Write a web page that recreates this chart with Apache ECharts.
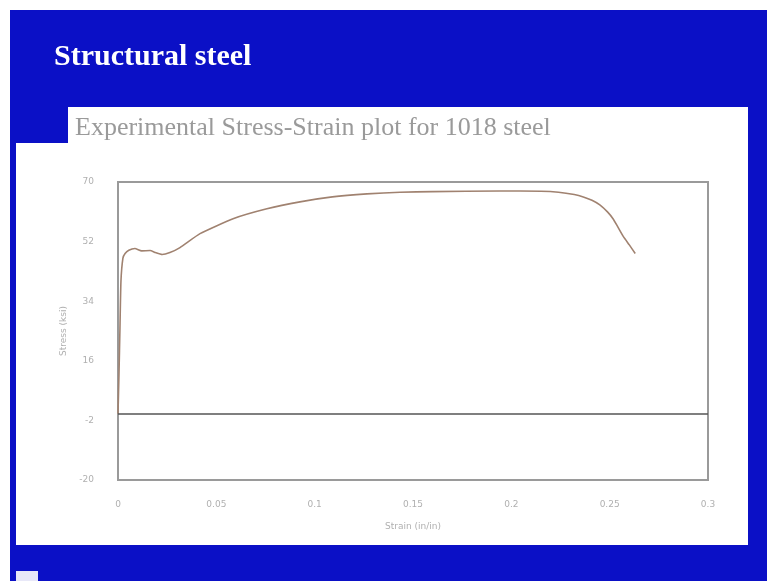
<!DOCTYPE html>
<html>
<head>
<meta charset="utf-8">
<script src="https://cdn.jsdelivr.net/npm/echarts@6/dist/echarts.min.js"></script>
<style>
html,body{margin:0;padding:0;background:#ffffff;}
#chart{width:767px;height:581px;}
</style>
</head>
<body>
<div id="chart"></div>
<script>
// Data
const strain = [0, 0.0005, 0.001, 0.0015, 0.0025, 0.0036, 0.0055, 0.0086, 0.012, 0.0163, 0.019, 0.0224, 0.0264, 0.0315, 0.0417, 0.0585, 0.0757, 0.0925, 0.109, 0.1266, 0.1434, 0.160, 0.194, 0.215, 0.224, 0.232, 0.2366, 0.241, 0.245, 0.249, 0.2517, 0.254, 0.257, 0.260, 0.263];
const stress = [0, 12, 26, 40, 47, 48.4, 49.4, 49.9, 49.2, 49.3, 48.7, 48.1, 48.7, 50.2, 54.4, 58.9, 61.9, 64.0, 65.5, 66.4, 66.9, 67.1, 67.3, 67.2, 66.9, 66.2, 65.5, 64.5, 63.1, 60.9, 58.9, 56.6, 53.5, 51.0, 48.4];
const yTicks = [-20, -2, 16, 34, 52, 70];
const xTicks = [0, 0.05, 0.1, 0.15, 0.2, 0.25, 0.3];
const slideTitle = "Structural steel";
const chartTitle = "Experimental Stress-Strain plot for 1018 steel";
const xName = "Strain (in/in)";
const yName = "Stress (ksi)";

const chart = echarts.init(document.getElementById('chart'), null, {renderer: 'canvas'});
const pts = strain.map((s, i) => [s, stress[i]]);

chart.setOption({
  animation: false,
  backgroundColor: '#ffffff',
  graphic: [
    {type: 'rect', z: -10, shape: {x: 10, y: 10, width: 757, height: 571}, style: {fill: '#0b10c6'}},
    {type: 'polygon', z: -9, shape: {points: [[68,107],[748,107],[748,545],[16,545],[16,143],[68,143]]}, style: {fill: '#ffffff'}},
    {type: 'rect', z: -9, shape: {x: 16, y: 571, width: 22, height: 10}, style: {fill: '#e8e8f8'}},
    {type: 'text', left: 54, top: 42, style: {text: slideTitle, fill: '#ffffff', font: 'bold 30px "Liberation Serif"'}},
    {type: 'text', left: 75, top: 115, style: {text: chartTitle, fill: '#9a9a9a', font: '26px "Liberation Serif"'}}
  ],
  grid: {left: 118, right: 59, top: 182, bottom: 101, show: true, borderColor: '#9a9a9a', borderWidth: 2, containLabel: false},
  xAxis: {
    type: 'value', min: 0, max: 0.3, interval: 0.05,
    name: xName, nameLocation: 'middle', nameGap: 42,
    nameTextStyle: {color: '#b0b0b0', fontSize: 9, fontFamily: 'DejaVu Sans'},
    axisLine: {show: false, onZero: false}, axisTick: {show: false},
    splitLine: {show: false},
    axisLabel: {color: '#b0b0b0', fontSize: 9, margin: 20, fontFamily: 'DejaVu Sans',
      formatter: v => String(xTicks.find(t => Math.abs(t - v) < 1e-9) ?? v)}
  },
  yAxis: {
    type: 'value', min: -20, max: 70, interval: 18,
    name: yName, nameLocation: 'middle', nameGap: 46, nameRotate: 90,
    nameTextStyle: {color: '#b0b0b0', fontSize: 9, fontFamily: 'DejaVu Sans'},
    axisLine: {show: false}, axisTick: {show: false},
    splitLine: {show: false},
    axisLabel: {color: '#b0b0b0', fontSize: 9, margin: 24, fontFamily: 'DejaVu Sans',
      formatter: v => String(yTicks.find(t => Math.abs(t - v) < 1e-9) ?? v)}
  },
  series: [{
    type: 'line', data: pts, showSymbol: false, smooth: 0.15,
    lineStyle: {color: '#a08270', width: 1.6},
    markLine: {silent: true, symbol: 'none', label: {show: false},
      lineStyle: {color: '#555555', width: 1.5, type: 'solid'},
      data: [{yAxis: 0}]}
  }]
});
</script>
</body>
</html>
